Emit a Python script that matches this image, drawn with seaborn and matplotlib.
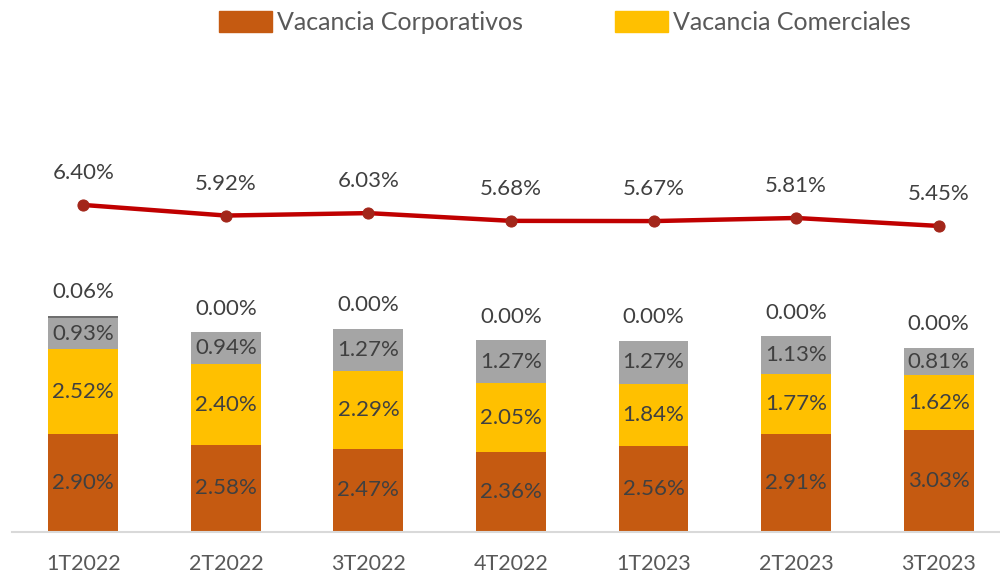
import matplotlib
matplotlib.use('Agg')
import matplotlib.pyplot as plt
import numpy as np
import pandas as pd
import seaborn as sns
from matplotlib.patches import Patch

periods = ['1T2022', '2T2022', '3T2022', '4T2022', '1T2023', '2T2023', '3T2023']
corporativos = [2.90, 2.58, 2.47, 2.36, 2.56, 2.91, 3.03]
comerciales = [2.52, 2.40, 2.29, 2.05, 1.84, 1.77, 1.62]
otros = [0.93, 0.94, 1.27, 1.27, 1.27, 1.13, 0.81]
resto = [0.06, 0.00, 0.00, 0.00, 0.00, 0.00, 0.00]
total = [6.40, 5.92, 6.03, 5.68, 5.67, 5.81, 5.45]

c_corp = '#C55A11'
c_com = '#FFC000'
c_otros = '#A5A5A5'
c_resto = '#6F6F6F'
c_line = '#C00000'
c_text = '#404040'

sns.set_theme(style='white')
plt.rcParams['font.family'] = ['Lato', 'DejaVu Sans']

df = pd.DataFrame({'periodo': periods, 'corp': corporativos, 'com': comerciales,
                   'otros': otros, 'resto': resto, 'total': total})
df['c1'] = df['corp']
df['c2'] = df['c1'] + df['com']
df['c3'] = df['c2'] + df['otros']
df['c4'] = df['c3'] + df['resto']

fig = plt.figure(figsize=(10, 5.73), dpi=100)
ax = fig.add_axes([0.012, 0.0716, 0.988, 0.8237])

width = 0.49
# draw cumulative totals back to front so each layer shows as a stacked segment
for col, color in [('c4', c_resto), ('c3', c_otros), ('c2', c_com), ('c1', c_corp)]:
    sns.barplot(data=df, x='periodo', y=col, color=color, width=width,
                saturation=1, linewidth=0, ax=ax)

ax.set_ylim(0, 14)
ax.set_xlim(-0.5, 6.43)
ax.set_xlabel('')
ax.set_ylabel('')
ax.set_yticks([])
for s in ['left', 'right', 'top']:
    ax.spines[s].set_visible(False)
ax.spines['bottom'].set_color('#D9D9D9')
ax.spines['bottom'].set_linewidth(1.5)
ax.tick_params(axis='x', length=0, pad=16, labelsize=15.5, labelcolor='#595959')

fs = 16
for i, row in df.iterrows():
    ax.text(i, row['corp'] / 2, f"{row['corp']:.2f}%", ha='center', va='center', fontsize=fs, color=c_text)
    ax.text(i, row['c1'] + row['com'] / 2, f"{row['com']:.2f}%", ha='center', va='center', fontsize=fs, color=c_text)
    ax.text(i, row['c2'] + row['otros'] / 2, f"{row['otros']:.2f}%", ha='center', va='center', fontsize=fs, color=c_text)
    ax.text(i, row['c4'] + 0.7, f"{row['resto']:.2f}%", ha='center', va='center', fontsize=fs, color=c_text)

ax2 = ax.twinx()
x = np.arange(len(periods))
sns.lineplot(x=x, y=total, color=c_line, linewidth=3.2, marker='o', markersize=8,
             markerfacecolor='#A3261A', markeredgecolor='#A3261A', ax=ax2)
ax2.set_ylim(-8.4, 12.96)
ax2.set_yticks([])
ax2.set_ylabel('')
for s in ax2.spines.values():
    s.set_visible(False)
for i, v in enumerate(total):
    ax2.text(i, v + 1.45, f'{v:.2f}%', ha='center', va='center', fontsize=fs, color=c_text)

handles = [Patch(color=c_corp, label='Vacancia Corporativos'),
           Patch(color=c_com, label='Vacancia Comerciales')]
fig.legend(handles=handles, loc='center', bbox_to_anchor=(0.565, 0.96), ncol=2,
           frameon=False, fontsize=18, labelcolor='#595959', handlelength=2.1,
           handleheight=0.9, handletextpad=0.2, columnspacing=3.7)

fig.savefig('out.png', dpi=100)
